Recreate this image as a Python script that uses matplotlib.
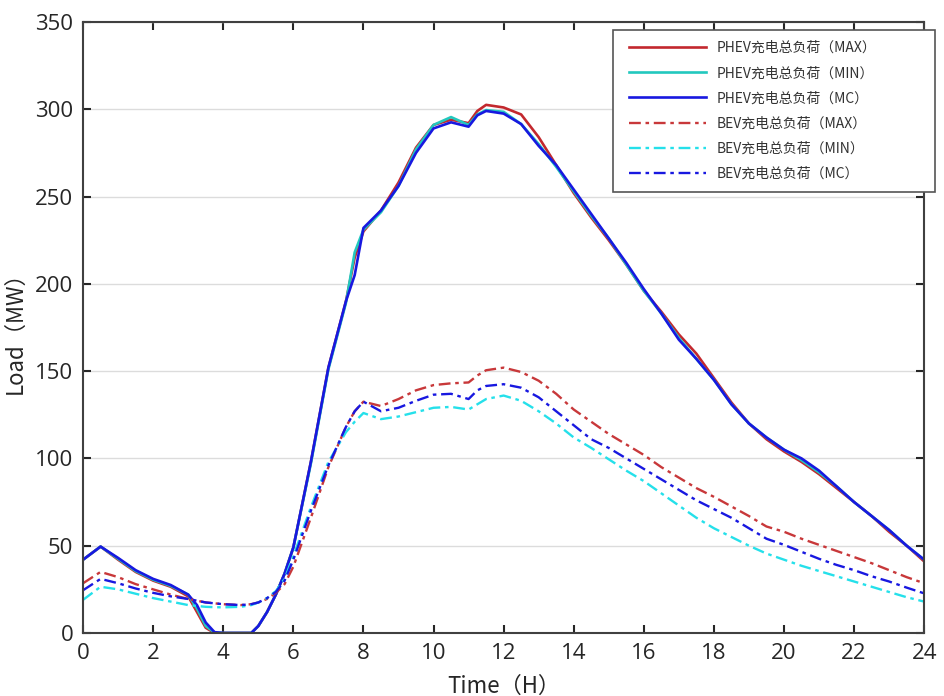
import numpy as np
import matplotlib
matplotlib.use("Agg")
import matplotlib.pyplot as plt
from matplotlib.patches import Rectangle

plt.rcParams['font.family'] = ['Noto Sans CJK SC', 'DejaVu Sans']

# hours of the day
hours = [0, 0.5, 1, 1.5, 2, 2.5, 3, 3.25, 3.5, 3.75, 4, 4.5, 4.8, 5, 5.25, 5.5, 5.75,
         6, 6.5, 7, 7.5, 7.75, 8, 8.5, 9, 9.5, 10, 10.5, 11, 11.25, 11.5, 12, 12.5,
         13, 13.5, 14, 14.5, 15, 15.5, 16, 16.5, 17, 17.5, 18, 18.5, 19, 19.5, 20,
         20.5, 21, 21.5, 22, 22.5, 23, 23.5, 24]

# PHEV charging load (MW)
phev_max = [42, 49.5, 42, 35, 30, 26.5, 21, 12, 3, 0, 0, 0, 0, 4, 12, 22, 34,
            49, 98, 152, 190, 215, 230, 242, 258, 278, 291, 294, 292, 299, 302.5, 301, 297,
            284, 268, 252, 238, 225, 211, 196, 184, 171, 160, 146, 132, 120, 111, 104,
            98, 91, 83, 75, 67, 58, 50, 41]
phev_min = [42, 49.5, 42.5, 35.5, 30.5, 27, 22, 14, 4, 0.3, 0, 0, 0, 4, 12, 22, 34,
            49, 97, 151, 189, 218, 231, 241, 256, 277, 291, 295.5, 291, 297, 299.5, 298.5, 291.5,
            280, 267, 253, 239, 226, 211, 196, 183, 169, 157, 145, 131, 120, 112, 105,
            99, 92, 84, 75, 67, 59, 50, 42]
phev_mc = [42, 49.5, 43, 36, 31, 27.5, 22, 16, 6, 0.5, 0, 0, 0, 4, 12, 22, 34,
           49, 98, 152, 190, 205, 232, 242, 256, 275, 289, 292.5, 290, 296.5, 299, 297.5, 291.5,
           279, 268, 254, 240, 226, 212, 197, 183, 168, 157, 145, 131, 120, 112, 105,
           100, 93, 84, 75, 67, 59, 50, 42]

# BEV charging load (MW)
bev_max = [28.5, 35, 32, 28, 25, 22, 19.5, 18.5, 17.5, 17, 16.5, 16, 16.5, 17.5, 19.5, 23, 28,
           38, 66, 95, 118, 127, 132.5, 130, 134, 139, 142, 143, 143.5, 147.5, 150.5, 152, 149.5,
           144.5, 137, 128, 121, 114, 108, 102, 95, 89, 83, 78, 72.5, 67, 61, 58,
           54, 50.5, 47, 43.5, 40, 36, 32, 28.5]
bev_min = [19, 26.5, 25, 22.5, 20, 18, 16, 15.5, 15, 14.8, 14.7, 15, 16, 17.5, 20, 24, 31,
           44, 72, 98, 115, 121, 126, 122.5, 124, 126.5, 129, 129.5, 128, 131, 134, 136, 133,
           127, 120, 112, 106, 99.5, 93, 87, 80, 73, 66, 60, 55, 50, 45.5, 42,
           38.5, 35.5, 32.5, 29.5, 26.5, 23.5, 20.5, 18]
bev_mc = [24.5, 31, 28.5, 25.5, 23, 21, 19.5, 18.5, 17.5, 17, 16.5, 16, 16.5, 17.5, 20, 23.5, 30,
          42, 70, 96, 118, 127, 132.5, 127, 129, 133, 136.5, 137, 134, 139, 141.5, 142.5, 140.5,
          135, 127, 119, 111, 106, 100, 94, 88, 82, 76, 71, 66, 60, 54, 50.5,
          46.5, 42.5, 39, 36, 32.5, 29.5, 26, 22.7]

labels = ['PHEV充电总负荷（MAX）', 'PHEV充电总负荷（MIN）', 'PHEV充电总负荷（MC）',
          'BEV充电总负荷（MAX）', 'BEV充电总负荷（MIN）', 'BEV充电总负荷（MC）']

W, H = 944, 696
fig = plt.figure(figsize=(W / 100, H / 100), dpi=100)
ax = fig.add_axes([0.088, 0.0905, 0.891, 0.878])

dd = (5, 2, 1.5, 2)
ax.plot(hours, phev_max, color='#C3282E', lw=1.9, label=labels[0])
ax.plot(hours, phev_min, color='#22C8BE', lw=1.9, label=labels[1])
ax.plot(hours, phev_mc, color='#1818E0', lw=1.9, label=labels[2])
ax.plot(hours, bev_max, color='#C8383A', lw=1.7, dashes=dd, label=labels[3])
ax.plot(hours, bev_min, color='#25E0EA', lw=1.7, dashes=dd, label=labels[4])
ax.plot(hours, bev_mc, color='#1818E0', lw=1.7, dashes=dd, label=labels[5])

ax.set_xlim(0, 24)
ax.set_ylim(0, 350)
ax.set_xticks(np.arange(0, 25, 2))
ax.set_yticks(np.arange(0, 351, 50))
ax.yaxis.grid(True, color='#dcdcdc', lw=1)
ax.set_axisbelow(True)
ax.tick_params(direction='in', top=True, right=True, length=6, width=1.5,
               labelsize=16, colors='#262626', pad=7)
for lab in ax.get_xticklabels() + ax.get_yticklabels():
    lab.set_family('Open Sans')
for s in ax.spines.values():
    s.set_color('#404040')
    s.set_linewidth(1.5)

ax.set_xlabel('Time（H）', fontsize=16, color='#262626', labelpad=8)
ax.set_ylabel('Load（MW）', fontsize=16, color='#262626', labelpad=6)

# legend box is wider than its entries, so the frame is drawn separately
box = Rectangle((613 / W, 1 - 192 / H), (935 - 613) / W, (192 - 30) / H,
                transform=fig.transFigure, facecolor='white', edgecolor='#555555',
                lw=1.2, zorder=4)
fig.patches.append(box)
leg = fig.legend(loc='upper left', bbox_to_anchor=(618 / W, 1 - 30 / H),
                 fontsize=10, handlelength=5.5, labelspacing=0.8, frameon=False,
                 borderpad=0.8, handletextpad=0.8, borderaxespad=0)
leg.set_zorder(5)
for t in leg.get_texts():
    t.set_color('#333333')

fig.savefig('out.png', dpi=100)
